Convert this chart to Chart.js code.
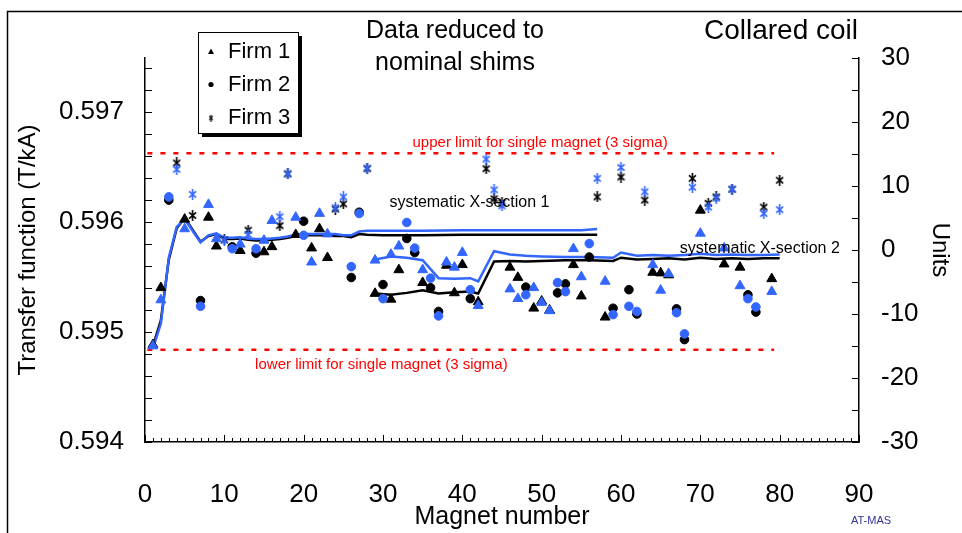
<!DOCTYPE html>
<html>
<head>
<meta charset="utf-8">
<title>Transfer function - collared coil</title>
<script src="https://cdn.jsdelivr.net/npm/chart.js@4.4.0/dist/chart.umd.min.js"></script>
<style>
  html, body { margin: 0; padding: 0; background: #fff; }
  #wrap { position: relative; width: 962px; height: 533px; }
</style>
</head>
<body>
<div id="wrap"><canvas id="graphique" width="962" height="533"></canvas></div>
<script>
// values in units (right axis)
const firm1Magnets = [1, 2, 5, 8, 9, 12, 15, 16, 19, 21, 22, 23, 29, 31, 32, 35, 38, 39, 40, 42, 46, 47, 49, 50, 51, 54, 55, 58, 64, 65, 66, 70, 73, 75, 79];
const firm1Black = [-14.8, -5.9, 4.8, 5.1, 0.6, -0.1, -0.3, 0.5, 2.4, 0.3, 3.3, -1.2, -6.8, -7.7, -3.1, -5.1, -2.4, -6.7, -2.3, -8.1, -2.7, -4.3, -9.1, -8.0, -9.4, -2.3, -7.2, -10.5, -3.5, -3.6, -3.9, 6.2, -2.2, -2.7, -4.5];
const firm1Blue = [-15.0, -7.8, 3.3, 7.1, 1.75, 0.9, 1.5, 4.6, 5.1, -1.9, 5.7, 2.5, -1.6, -0.7, 0.6, -3.1, -1.9, -2.7, -0.4, -8.7, -6.1, -7.6, -5.9, -8.2, -9.5, 0.2, -4.2, -4.9, -2.3, -6.3, -3.7, 2.6, 0.3, -5.6, -6.5];

const firm2Magnets = [3, 7, 11, 14, 20, 26, 27, 30, 33, 34, 36, 37, 41, 48, 52, 53, 56, 59, 61, 62, 67, 68, 76, 77];
const firm2Black = [7.8, -7.9, 0.5, -0.5, 4.5, -4.3, 5.9, -5.4, 1.8, -0.4, -5.9, -9.6, -7.6, -5.8, -6.7, -5.3, -1.1, -9.1, -6.2, -10.0, -9.2, -14.0, -7.0, -9.7];
const firm2Blue = [8.3, -8.8, 0.2, 0.2, 2.3, -2.6, 5.7, -7.6, 4.3, 0.3, -4.4, -10.3, -6.2, -7.0, -5.1, -6.5, 1.0, -10.1, -8.8, -9.6, -9.8, -13.1, -7.6, -8.9];

const firm3Magnets = [4, 6, 10, 13, 17, 18, 24, 25, 28, 43, 44, 45, 57, 60, 63, 69, 71, 72, 74, 78, 80];
const firm3Black = [13.6, 5.4, 1.6, 3.1, 3.8, 11.9, 6.4, 7.2, 12.7, 12.7, 8.0, 7.4, 8.3, 11.4, 7.8, 11.2, 7.3, 8.3, 9.5, 6.7, 10.9];
const firm3Blue = [12.6, 8.7, 1.5, 2.4, 5.2, 11.9, 6.6, 8.3, 12.8, 14.2, 9.4, 6.9, 11.2, 12.9, 9.1, 9.8, 6.7, 8.1, 9.5, 5.7, 6.3];

const sys1Magnets = [1, 2, 3, 4, 5, 7, 8, 9, 10, 11, 12, 13, 14, 15, 16, 17, 18, 19, 20, 22, 24, 25, 26, 27, 28, 30, 35, 40, 45, 50, 55, 57];
const sys1Black = [-15.0, -11.0, -1.5, 3.4, 5.0, 1.3, 2.2, 2.5, 1.7, 1.7, 1.8, 1.6, 1.5, 1.5, 1.6, 1.7, 1.9, 2.2, 2.3, 2.3, 2.2, 2.2, 2.0, 2.5, 2.4, 2.3, 2.3, 2.4, 2.4, 2.4, 2.4, 2.4];
const sys1Blue = [-15.4, -11.5, -1.2, 3.6, 4.8, 1.2, 2.3, 2.6, 1.9, 1.9, 2.0, 1.8, 1.7, 1.7, 1.8, 1.9, 2.1, 2.4, 2.5, 2.5, 2.5, 2.3, 2.3, 2.9, 3.0, 3.0, 3.0, 3.1, 3.1, 3.1, 3.1, 3.3];

const sys2Magnets = [29, 31, 33, 35, 37, 39, 41, 42, 44, 46, 48, 50, 53, 56, 59, 60, 62, 64, 66, 68, 70, 72, 74, 76, 78, 80];
const sys2Black = [-6.8, -7.0, -6.7, -6.3, -6.8, -6.6, -6.5, -6.8, -1.8, -1.7, -1.8, -1.7, -1.6, -1.6, -1.7, -1.2, -1.5, -1.4, -1.3, -1.5, -1.2, -1.4, -1.3, -1.4, -1.3, -1.3];
const sys2Blue = [-1.5, -1.0, -1.2, -1.6, -4.4, -4.5, -4.4, -4.9, -0.2, -0.7, -0.9, -1.0, -1.1, -1.1, -1.2, -0.4, -0.9, -0.8, -0.9, -0.8, -0.6, -0.8, -0.7, -0.8, -0.8, -0.7];

const limitMagnets = [0.3, 79.3];
const upperLimit = 15.1;
const lowerLimit = -15.6;

const FONT = "'Liberation Sans', Arial, sans-serif";
const BLEU = "#3366ff";

function points(xs, ys) {
  return xs.map((m, i) => ({ x: m, y: ys[i] }));
}

// marqueur etoile (X + trait vertical)
function etoile(couleur, l, h, epaisseur) {
  const c = document.createElement("canvas");
  c.width = l;
  c.height = h;
  const g = c.getContext("2d");
  g.strokeStyle = couleur;
  g.lineWidth = epaisseur;
  g.beginPath();
  g.moveTo(1, h * 0.22);
  g.lineTo(l - 1, h * 0.78);
  g.moveTo(l - 1, h * 0.22);
  g.lineTo(1, h * 0.78);
  g.moveTo(l / 2, 0);
  g.lineTo(l / 2, h);
  g.stroke();
  return c;
}

function marqueurs(data, style, couleur, ordre) {
  return {
    data: data,
    yAxisID: "y2",
    showLine: false,
    pointStyle: style,
    pointRadius: style === "triangle" ? 5.7 : 4.3,
    backgroundColor: couleur,
    borderColor: couleur,
    borderWidth: 1,
    order: ordre,
    clip: false,
  };
}

function ligne(data, couleur, dash, largeur, ordre) {
  return {
    data: data,
    yAxisID: "y2",
    showLine: true,
    borderColor: couleur,
    borderWidth: largeur,
    borderDash: dash,
    pointRadius: 0,
    tension: 0,
    fill: false,
    order: ordre,
  };
}

const decor = {
  id: "decor",
  afterDraw(chart) {
    const ctx = chart.ctx;
    const xs = chart.scales.x;
    const yl = chart.scales.y;
    const yr = chart.scales.y2;
    ctx.save();

    // petites graduations vers l'interieur
    ctx.strokeStyle = "#000";
    ctx.lineWidth = 1;
    ctx.beginPath();
    xs.ticks.forEach((t) => {
      const px = Math.round(xs.getPixelForValue(t.value)) + 0.5;
      const len = t.value % 10 === 0 ? 7 : 4;
      ctx.moveTo(px, xs.top);
      ctx.lineTo(px, xs.top - len);
    });
    yl.ticks.forEach((t) => {
      const py = Math.round(yl.getPixelForValue(t.value)) + 0.5;
      ctx.moveTo(yl.right, py);
      ctx.lineTo(yl.right + 7, py);
    });
    yr.ticks.forEach((t) => {
      const py = Math.round(yr.getPixelForValue(t.value)) + 0.5;
      ctx.moveTo(yr.left, py);
      ctx.lineTo(yr.left - 7, py);
    });
    ctx.stroke();

    // cadre
    ctx.lineWidth = 1.5;
    ctx.beginPath();
    ctx.moveTo(7.5, 533);
    ctx.lineTo(7.5, 11.5);
    ctx.lineTo(962, 11.5);
    ctx.stroke();

    // textes
    ctx.fillStyle = "#000";
    ctx.textAlign = "center";
    ctx.textBaseline = "middle";
    ctx.font = "25px " + FONT;
    ctx.fillText("Data reduced to", 455, 31);
    ctx.fillText("nominal shims", 455, 63);
    ctx.font = "28px " + FONT;
    ctx.fillText("Collared coil", 781, 31);

    ctx.font = "16px " + FONT;
    ctx.fillText("systematic X-section 1", xs.getPixelForValue(40.9), yr.getPixelForValue(7.4));
    ctx.fillText("systematic X-section 2", xs.getPixelForValue(77.5), yr.getPixelForValue(0.2));

    ctx.fillStyle = "#ff0000";
    ctx.font = "15px " + FONT;
    ctx.fillText("upper limit for single magnet (3 sigma)", xs.getPixelForValue(49.8), yr.getPixelForValue(16.8));
    ctx.fillText("lower limit for single magnet (3 sigma)", xs.getPixelForValue(29.8), yr.getPixelForValue(-18.0));

    ctx.fillStyle = "#33339a";
    ctx.font = "11px " + FONT;
    ctx.fillText("AT-MAS", 871, 521);

    // legende
    ctx.fillStyle = "#000";
    ctx.fillRect(202, 36, 100, 101);
    ctx.fillStyle = "#fff";
    ctx.fillRect(198, 32, 100, 101);
    ctx.strokeStyle = "#000";
    ctx.lineWidth = 1;
    ctx.strokeRect(198.5, 32.5, 100, 101);

    ctx.fillStyle = "#000";
    ctx.beginPath();
    ctx.moveTo(211, 48.5);
    ctx.lineTo(214, 54);
    ctx.lineTo(208, 54);
    ctx.closePath();
    ctx.fill();
    ctx.beginPath();
    ctx.arc(211, 84.5, 2.6, 0, Math.PI * 2);
    ctx.fill();
    ctx.drawImage(etoile("#000", 6, 7, 1.1), 208, 114.5);

    ctx.textAlign = "left";
    ctx.font = "22px " + FONT;
    ctx.fillText("Firm 1", 228, 52);
    ctx.fillText("Firm 2", 228, 85);
    ctx.fillText("Firm 3", 228, 118);
    ctx.restore();
  },
};

const configuration = {
  type: "scatter",
  data: {
    datasets: [
      ligne(points(limitMagnets, [upperLimit, upperLimit]), "#ff0000", [5, 8], 2.5, 9),
      ligne(points(limitMagnets, [lowerLimit, lowerLimit]), "#ff0000", [5, 8], 2.5, 9),
      ligne(points(sys1Magnets, sys1Black), "#000", [], 2.5, 8),
      ligne(points(sys1Magnets, sys1Blue), BLEU, [], 2.5, 7),
      ligne(points(sys2Magnets, sys2Black), "#000", [], 2.5, 8),
      ligne(points(sys2Magnets, sys2Blue), BLEU, [], 2.5, 7),
      marqueurs(points(firm1Magnets, firm1Black), "triangle", "#000", 2),
      marqueurs(points(firm2Magnets, firm2Black), "circle", "#000", 2),
      marqueurs(points(firm3Magnets, firm3Black), etoile("#000", 9, 11, 1.6), "#000", 2),
      marqueurs(points(firm1Magnets, firm1Blue), "triangle", BLEU, 1),
      marqueurs(points(firm2Magnets, firm2Blue), "circle", BLEU, 1),
      marqueurs(points(firm3Magnets, firm3Blue), etoile(BLEU, 9, 11, 1.6), BLEU, 1),
    ],
  },
  plugins: [decor],
  options: {
    responsive: false,
    animation: false,
    devicePixelRatio: 1,
    layout: { padding: { top: 58, left: 0, right: 0, bottom: 0 } },
    plugins: { legend: { display: false }, tooltip: { enabled: false } },
    scales: {
      x: {
        type: "linear",
        position: "bottom",
        min: 0,
        max: 90,
        afterFit: (s) => { s.height = 91; },
        grid: { display: false, drawTicks: false },
        border: { display: true, color: "#000", width: 1.5 },
        ticks: {
          stepSize: 1,
          autoSkip: false,
          maxRotation: 0,
          padding: 37,
          color: "#000",
          font: { size: 26, family: FONT },
          callback: (v) => (v % 10 === 0 ? v : ""),
        },
        title: {
          display: true,
          text: "Magnet number",
          color: "#000",
          font: { size: 25, family: FONT },
          padding: { top: 0, bottom: 1 },
        },
      },
      y: {
        type: "linear",
        position: "left",
        min: 0.594,
        max: 0.59749,
        afterFit: (s) => { s.width = 145; },
        grid: { display: false, drawTicks: false },
        border: { display: true, color: "#000", width: 1.5 },
        ticks: {
          stepSize: 0.0002,
          includeBounds: false,
          autoSkip: false,
          padding: 21,
          color: "#000",
          font: { size: 26, family: FONT },
          callback: (v) => {
            const k = v * 1000;
            return Math.abs(k - Math.round(k)) < 1e-6 ? v.toFixed(3) : "";
          },
        },
        title: {
          display: true,
          text: "Transfer function (T/kA)",
          color: "#000",
          font: { size: 24, family: FONT },
          padding: { top: 14, bottom: 0 },
        },
      },
      y2: {
        type: "linear",
        position: "right",
        min: -30,
        max: 30,
        afterFit: (s) => { s.width = 103; },
        grid: { display: false, drawTicks: false },
        border: { display: true, color: "#000", width: 1.5 },
        ticks: {
          stepSize: 5,
          autoSkip: false,
          padding: 22,
          color: "#000",
          font: { size: 26, family: FONT },
          callback: (v) => (v % 10 === 0 ? v : ""),
        },
        title: {
          display: true,
          text: "Units",
          color: "#000",
          font: { size: 24, family: FONT },
          padding: { top: 8, bottom: 0 },
        },
      },
    },
  },
};

const graphique = document.getElementById("graphique");
const chart = new Chart(graphique, configuration);
</script>
</body>
</html>
